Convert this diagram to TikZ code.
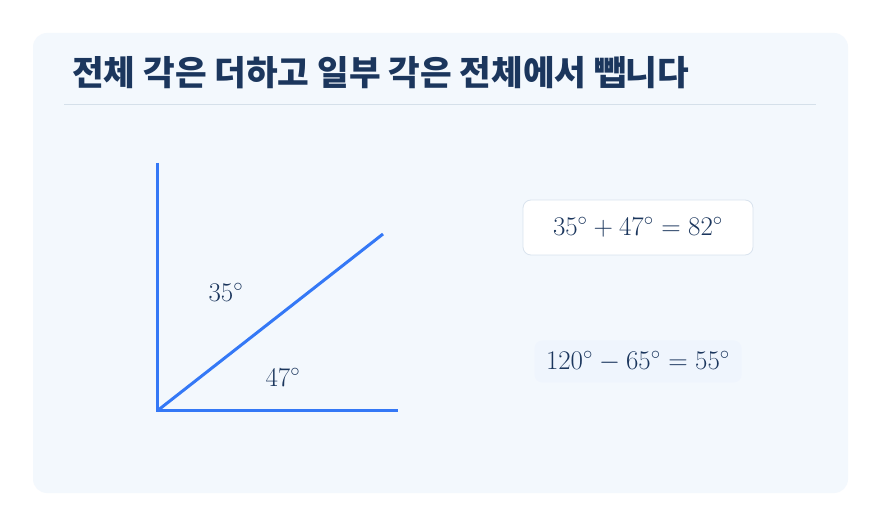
\documentclass[tikz,border=0pt]{standalone}
\usepackage{fontspec}
\newfontfamily\krfont{Noto Sans CJK KR}
\usetikzlibrary{positioning}
\definecolor{panelbg}{HTML}{F3F8FD}
\definecolor{rulecol}{HTML}{D5E0EA}
\definecolor{ink}{HTML}{1B365D}
\definecolor{raycol}{HTML}{3478F6}
\definecolor{boxline}{HTML}{D9E3EE}
\definecolor{faintbox}{HTML}{EFF5FD}
\newcommand{\bigmath}[1]{\scalebox{1.3}{$#1$}}
\tikzset{
	%Define style for the equation boxes
	eqbox/.style={
		rectangle,
		rounded corners=8pt,
		draw=boxline, fill=white, line width=0.8pt,
		minimum width=230pt,
		minimum height=55pt,
		text=ink,
		font=\fontsize{20.74}{25}\selectfont},
	softbox/.style={
		eqbox, draw=none, fill=faintbox,
		minimum width=207pt,
		minimum height=42pt},
	%Define style for the rays
	ray/.style={
		draw=raycol, line width=3pt},
	anglelabel/.style={
		text=ink,
		font=\fontsize{20.74}{25}\selectfont}
}

\begin{document}
\begin{tikzpicture}[x=1pt,y=-1pt]
	\useasboundingbox[fill=white] (0,0) rectangle (881,526);
	\fill[panelbg, rounded corners=14pt] (33,33) rectangle (848,493);
	\node[anchor=west, inner sep=0pt, text=ink, font=\krfont\bfseries\fontsize{34.4}{40}\selectfont] (title) at (72,73) {전체 각은 더하고 일부 각은 전체에서 뺍니다};
	\draw[rulecol, line width=1pt] (64,104.5) -- (816,104.5);
	% the angle
	\coordinate (vertex) at (157,411);
	\coordinate (up) at (157,163);
	\coordinate (right) at (398,411);
	\coordinate (mid) at (383,234);
	\draw[ray] (up) -- (vertex) -- (right);
	\draw[ray] (vertex) -- (mid);
	\node[anchor=center, inner sep=0pt, anglelabel] (upper) at (226,292) {\bigmath{35^\circ}};
	\node[anchor=center, inner sep=0pt, anglelabel] (lower) at (283,377) {\bigmath{47^\circ}};
	% the sums
	\node[eqbox] (sum) at (638,227.5) {\bigmath{35^\circ + 47^\circ = 82^\circ}};
	\node[softbox] (diff) at (638,361.5) {\bigmath{120^\circ - 65^\circ = 55^\circ}};
\end{tikzpicture}
\end{document}
